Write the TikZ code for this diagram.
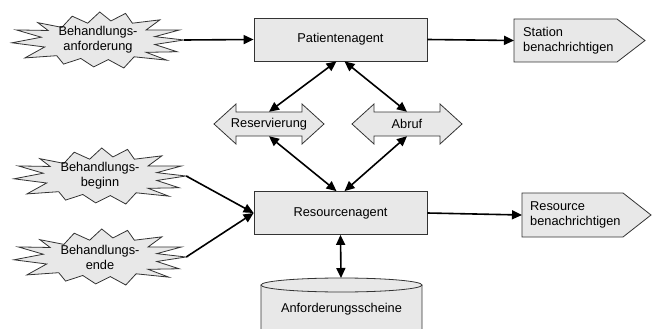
\documentclass[tikz,border=0pt]{standalone}
\usepackage{fontspec}
\setmainfont{Liberation Sans}
\usetikzlibrary{arrows.meta}
\definecolor{shapefill}{HTML}{E8E8E8}
\definecolor{edgegray}{HTML}{333333}
\tikzset{
  shapeline/.style={draw=edgegray, line width=0.8pt, fill=shapefill},
  lbl/.style={font=\fontsize{12.8}{15}\selectfont, inner sep=0pt, align=center},
  agentbox/.style={shapeline, lbl, minimum width=173pt, minimum height=43pt},
  conn/.style={line width=1.6pt, -{Triangle[length=10pt,width=9pt]}},
  bconn/.style={line width=1.6pt, {Triangle[length=10pt,width=9pt]}-{Triangle[length=10pt,width=9pt]}},
  burstnode/.style={lbl, minimum width=172pt, minimum height=56pt},
}
\newcommand\mkburst[3]{%
  \begin{scope}[shift={#2}, x=86pt, y=28pt]
    \draw[shapeline] (-0.70,0.62) -- (-0.42,0.45) -- (-0.30,0.85) -- (-0.12,0.60) -- (0.02,1.0)
      -- (0.15,0.68) -- (0.32,0.95) -- (0.40,0.60) -- (0.72,0.72) -- (0.56,0.36) -- (0.95,0.36)
      -- (0.66,0.12) -- (1.0,0.0) -- (0.66,-0.16) -- (0.92,-0.42) -- (0.56,-0.44) -- (0.80,-0.72)
      -- (0.42,-0.60) -- (0.30,-1.0)
      -- (0.12,-0.70) -- (-0.05,-0.96) -- (-0.20,-0.66) -- (-0.40,-0.86) -- (-0.48,-0.56)
      -- (-0.85,-0.64) -- (-0.62,-0.25) -- (-1.0,-0.10) -- (-0.66,0.10) -- (-0.95,0.36)
      -- (-0.58,0.34) -- cycle;
  \end{scope}
  \node[burstnode] (#1) at #2 {#3};
}
\newcommand\mkdarrow[3]{%
  \begin{scope}[shift={#2}]
    \draw[shapeline] (-55,0) -- (-33,-20) -- (-33,-12) -- (33,-12) -- (33,-20) -- (55,0)
      -- (33,20) -- (33,12) -- (-33,12) -- (-33,20) -- cycle;
  \end{scope}
  \node[lbl, minimum width=66pt, minimum height=24pt] (#1) at #2 {#3};
}
\begin{document}
\begin{tikzpicture}[x=1pt, y=-1pt]
\useasboundingbox (0,0) rectangle (656,329);

% starbursts
\mkburst{anf}{(98,40)}{Behandlungs-\\anforderung}
\mkburst{beg}{(100,176)}{Behandlungs-\\beginn}
\mkburst{ende}{(100,257)}{Behandlungs-\\ende}

% agents
\node[agentbox] (pa) at (340.5,39.5) {Patientenagent};
\node[agentbox] (ra) at (340.5,213) {Resourcenagent};

% double arrows
\mkdarrow{res}{(269,124)}{Reservierung}
\mkdarrow{abr}{(407,124)}{Abruf}

% notification pentagons
\draw[shapeline] (514,19) -- (617,19) -- (645,40.5) -- (617,62) -- (514,62) -- cycle;
\node[lbl, align=left, anchor=west, inner xsep=9pt] (sta) at (514,40.5) {Station\\benachrichtigen};
\draw[shapeline] (522,193) -- (623,193) -- (651,215) -- (623,237) -- (522,237) -- cycle;
\node[lbl, align=left, anchor=west, inner xsep=8pt] (rsb) at (522,215) {Resource\\benachrichtigen};

% database cylinder
\draw[shapeline] (261,285) -- (261,330) arc[start angle=180, end angle=360, x radius=80.5pt, y radius=7pt] -- (422,285);
\draw[shapeline] (341.5,285) ellipse[x radius=80.5pt, y radius=7pt];
\coordinate (dbtop) at (341,278);
\node[lbl] (db) at (341.5,309) {Anforderungsscheine};

% connectors
\draw[conn] (anf.east) -- (pa.west);
\draw[conn] (pa.east) -- (sta.west);
\draw[bconn] ([xshift=-4pt]pa.south) -- (res.north);
\draw[bconn] ([xshift=4pt]pa.south) -- (abr.north);
\draw[bconn] (res.south) -- ([xshift=-4pt]ra.north);
\draw[bconn] (abr.south) -- ([xshift=4pt]ra.north);
\draw[conn] (beg.east) -- (ra.west);
\draw[conn] (ende.east) -- (ra.west);
\draw[conn] (ra.east) -- (rsb.west);
\draw[bconn] (ra.south) -- (dbtop);
\end{tikzpicture}
\end{document}
